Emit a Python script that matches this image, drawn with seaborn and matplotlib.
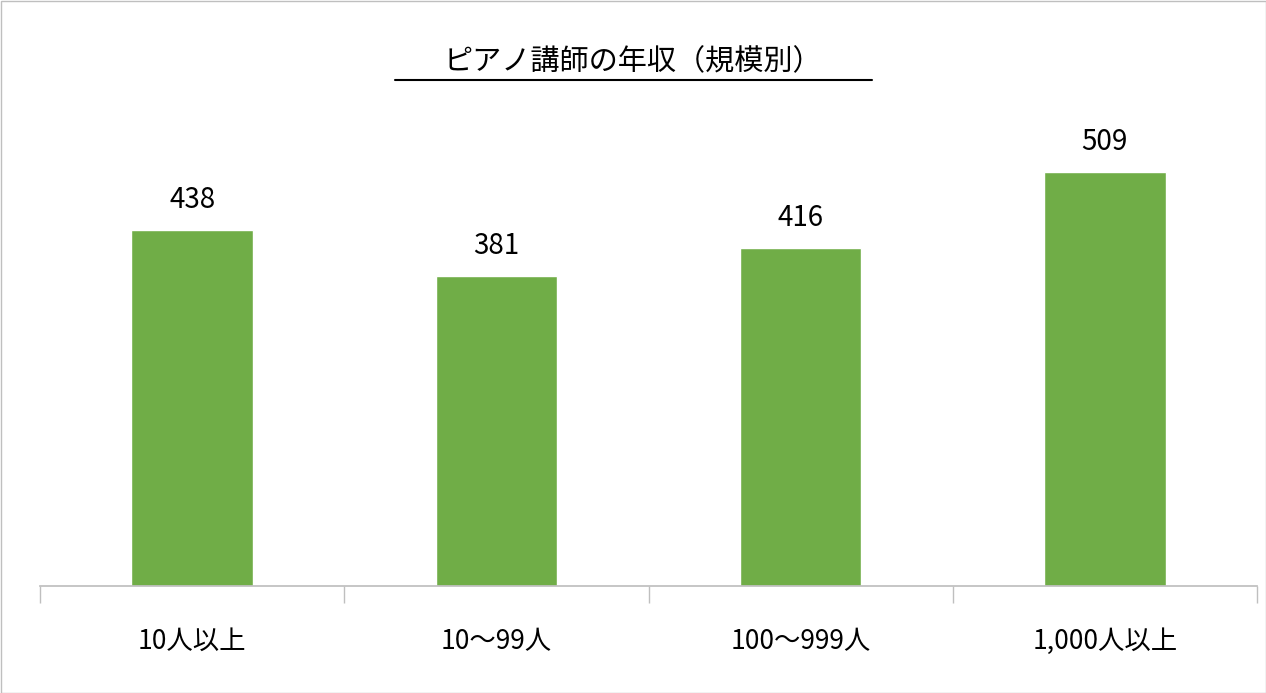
import matplotlib
matplotlib.use("Agg")
import matplotlib.pyplot as plt
import seaborn as sns
import pandas as pd
from matplotlib.patches import Rectangle

categories = ["10人以上", "10〜99人", "100〜999人", "1,000人以上"]
values = [438, 381, 416, 509]
title = "ピアノ講師の年収（規模別）"

sns.set_theme(style="white")
plt.rcParams['font.family'] = ['Noto Sans CJK JP', 'DejaVu Sans']

df = pd.DataFrame({"cat": categories, "val": values})
fig = plt.figure(figsize=(12.66, 6.93), dpi=100)
ax = fig.add_axes([40/1266, (693-586)/693, (1257-40)/1266, (586-98)/693])
sns.barplot(data=df, x="cat", y="val", color="#70AD47", width=0.4, saturation=1, ax=ax)
ax.set_ylim(0, 600)
ax.set_xlim(-0.5, len(categories) - 0.5)
for s in ["top", "right", "left"]:
    ax.spines[s].set_visible(False)
ax.spines["bottom"].set_color("#BFBFBF")
ax.set_yticks([])
ax.set_xlabel("")
ax.set_ylabel("")
ax.set_xticks([i - 0.5 for i in range(len(categories) + 1)], minor=True)
ax.tick_params(axis="x", which="minor", length=12, color="#BFBFBF", bottom=True)
ax.tick_params(axis="x", which="major", length=0, labelsize=19, pad=30)
for lbl in ax.get_xticklabels():
    lbl.set_color("black")
for i, v in enumerate(values):
    ax.text(i, v + 18, str(v), ha="center", va="bottom", fontsize=20, color="black")
fig.text(0.5, 1 - 62/693, title, ha="center", va="center", fontsize=21, color="black")
fig.add_artist(plt.Line2D([395/1266, 872/1266], [1 - 80/693, 1 - 80/693], color="black", lw=1.5))
fig.add_artist(Rectangle((0.5/1266, 0.5/693), 1 - 1/1266, 1 - 1/693, transform=fig.transFigure,
                         fill=False, edgecolor="#BFBFBF", lw=1))
fig.savefig("out.png", dpi=100)
